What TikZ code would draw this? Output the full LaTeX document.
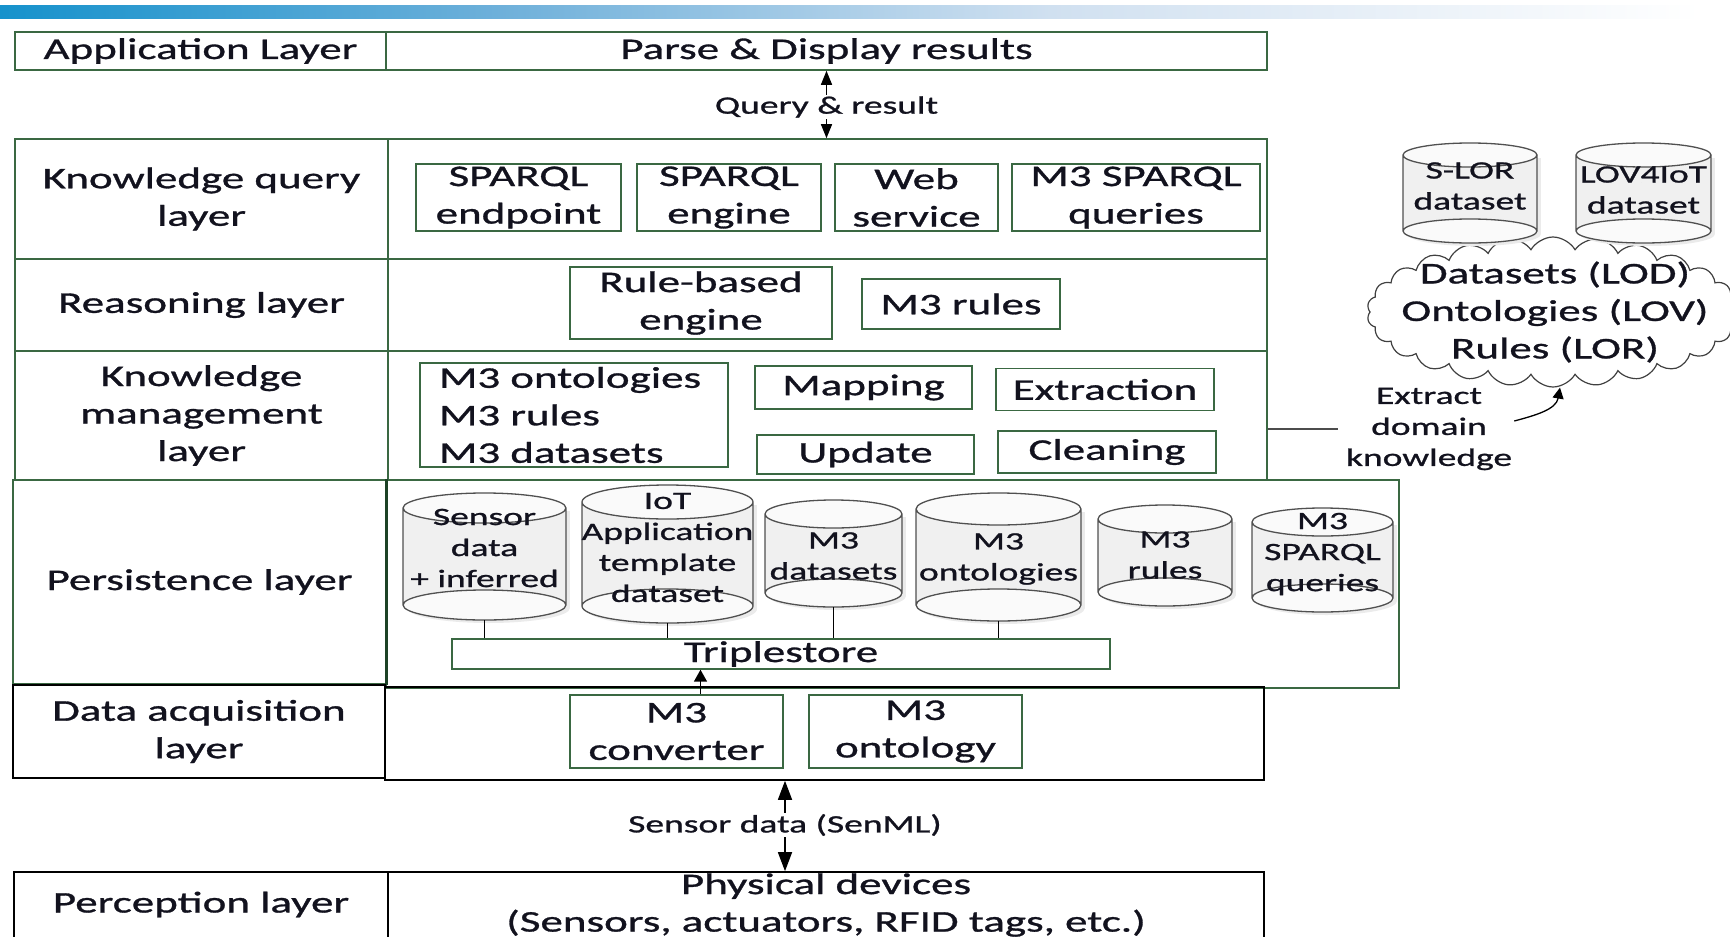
\documentclass[tikz,border=0pt]{standalone}
\usepackage{fontspec}
\setmainfont{Carlito}[FakeStretch=1.5,FakeBold=1.0]
\usetikzlibrary{arrows.meta,shapes.symbols,calc}

\definecolor{frame}{RGB}{58,104,66}
\definecolor{framedark}{RGB}{28,66,38}
\definecolor{ink}{RGB}{18,18,30}
\definecolor{cylline}{RGB}{80,80,80}
\definecolor{cylfill}{RGB}{240,240,240}
\definecolor{cyltop}{RGB}{250,250,250}
\definecolor{barA}{RGB}{22,146,204}
\definecolor{barB}{RGB}{110,176,218}
\definecolor{barC}{RGB}{208,224,240}

\newcommand\fsMain{\fontsize{30}{37.5}\selectfont}
\newcommand\fsSmall{\fontsize{25}{31}\selectfont}

\tikzset{
  cell/.style={draw=frame, line width=1.6pt, inner sep=0pt, align=center, font=\fsMain, text=ink},
  blackcell/.style={cell, draw=black},
  item/.style={draw=frame, line width=1.4pt, inner sep=0pt, align=center, font=\fsMain, text=ink},
  txt/.style={inner sep=0pt, align=center, font=\fsMain, text=ink},
  lbl/.style={inner sep=2pt, align=center, font=\fsSmall, text=ink},
  cyltext/.style={inner sep=0pt, align=center, font=\fsSmall, text=ink},
  cylbody/.style={inner sep=0pt, draw=none},
  link/.style={line width=1.5pt, black},
  qarrow/.style={line width=1.4pt, {Triangle[width=11pt,length=14pt]}-{Triangle[width=11pt,length=14pt]}},
  sarrow/.style={line width=1.5pt, {Triangle[width=14pt,length=19pt]}-{Triangle[width=14pt,length=19pt]}},
  uparrow/.style={line width=1.5pt, -{Triangle[width=13pt,length=12pt]}},
  cloudshape/.style={cloud, draw=black!75, line width=1.2pt, fill=white, cloud puffs=26,
    cloud puff arc=120, cloud ignores aspect, minimum width=372pt, minimum height=150pt, inner sep=0pt},
}

% database cylinder: name, left, right, top, bottom, ellipse radius, text centre, text
\newcommand\dbcyl[8]{%
  \pgfmathsetmacro\cx{(#2+#3)/2}%
  \pgfmathsetmacro\rx{(#3-#2)/2}%
  \pgfmathsetmacro\ct{#4+#6}%
  \pgfmathsetmacro\cb{#5-#6}%
  \fill[black!8] (#2+4,\ct+3) rectangle (#3+4,\cb+3);
  \fill[black!8] (\cx+4,\cb+3) ellipse [x radius=\rx pt, y radius=#6pt];
  \fill[cylfill] (#2,\ct) rectangle (#3,\cb);
  \fill[cyltop] (\cx,\cb) ellipse [x radius=\rx pt, y radius=#6pt];
  \fill[cyltop] (\cx,\ct) ellipse [x radius=\rx pt, y radius=#6pt];
  \draw[cylline, line width=1.3pt] (#2,\ct) -- (#2,\cb) (#3,\ct) -- (#3,\cb)
    (\cx,\ct) ellipse [x radius=\rx pt, y radius=#6pt]
    (\cx,\cb) ellipse [x radius=\rx pt, y radius=#6pt];
  \node[cylbody, minimum width=#3pt-#2pt, minimum height=#5pt-#4pt] (#1) at (\cx,{(#4+#5)/2}) {};
  \node[cyltext] (#1-t) at (\cx,#7) {#8};
}

\begin{document}
\begin{tikzpicture}[x=1pt,y=-1pt]
\useasboundingbox (0,0) rectangle (1730,937);
\clip (0,0) rectangle (1730,937);

% header band
\shade[left color=barA, right color=barB] (0,5) rectangle (500,18);
\shade[left color=barB, right color=barC] (500,5) rectangle (1050,18);
\shade[left color=barC, right color=white] (1050,5) rectangle (1700,18);

% layer table
\node[cell, minimum width=371pt, minimum height=38pt] (appl) at (200.5,51) {Application Layer};
\node[cell, minimum width=881pt, minimum height=38pt] (appr) at (826.5,51) {Parse \& Display results};

\node[cell, minimum width=373pt, minimum height=120pt] (kql) at (201.5,199) {Knowledge query\\layer};
\node[cell, minimum width=879pt, minimum height=120pt] (kqr) at (827.5,199) {};
\node[cell, minimum width=373pt, minimum height=92pt] (rsl) at (201.5,305) {Reasoning layer};
\node[cell, minimum width=879pt, minimum height=92pt] (rsr) at (827.5,305) {};
\node[cell, minimum width=373pt, minimum height=129pt] (kml) at (201.5,415.5) {Knowledge\\management\\layer};
\node[cell, minimum width=879pt, minimum height=129pt] (kmr) at (827.5,415.5) {};
\node[cell, minimum width=373pt, minimum height=204pt] (psl) at (199.5,582) {Persistence layer};
\node[cell, minimum width=1013pt, minimum height=208pt] (psr) at (892.5,584) {};
\draw[framedark, line width=3pt] (psl.north east) -- (psl.south east);
\node[blackcell, minimum width=372pt, minimum height=93pt] (dal) at (199,731.5) {Data acquisition\\layer};
\node[blackcell, minimum width=879pt, minimum height=93pt] (dar) at (824.5,733.5) {};
\node[blackcell, minimum width=374pt, minimum height=88pt] (pel) at (201,916) {};
\node[blackcell, minimum width=876pt, minimum height=88pt] (per) at (826,916) {};
\node[txt] (pelt) at (201,904.5) {Perception layer};
\node[txt] (pert) at (826,905) {Physical devices\\(Sensors, actuators, RFID tags, etc.)};

% query path
\draw[qarrow] (appr.south) -- (appr.south |- kqr.north);
\node[lbl, fill=white, inner sep=1pt] (qr) at (826.5,107) {Query \& result};

% knowledge query layer
\node[item, minimum width=205pt, minimum height=67pt] (se) at (518.5,197.5) {SPARQL\\endpoint};
\node[item, minimum width=184pt, minimum height=67pt] (sg) at (729,197.5) {SPARQL\\engine};
\node[item, minimum width=163pt, minimum height=67pt] (ws) at (916.5,197.5) {Web\\service};
\node[item, minimum width=248pt, minimum height=67pt] (mq) at (1136,197.5) {M3 SPARQL\\queries};

% reasoning layer
\node[item, minimum width=262pt, minimum height=72pt] (rb) at (701,303) {Rule-based\\engine};
\node[item, minimum width=198pt, minimum height=50pt] (mr) at (961,304) {M3 rules};

% knowledge management layer
\node[item, text width=270pt, inner xsep=19pt, align=left, minimum height=104pt] (ml) at (574,415) {M3 ontologies\\M3 rules\\M3 datasets};
\node[item, minimum width=217pt, minimum height=43pt] (mp) at (863.5,387.5) {Mapping};
\node[item, minimum width=218pt, minimum height=42pt] (ex) at (1105,389.5) {Extraction};
\node[item, minimum width=217pt, minimum height=39pt] (up) at (865.5,454.5) {Update};
\node[item, minimum width=218pt, minimum height=42pt] (cn) at (1107,452) {Cleaning};

% persistence layer
\dbcyl{sd}{403}{566}{493}{620}{15}{548}{Sensor\\data\\+ inferred}
\dbcyl{iot}{582}{753}{485}{623}{17}{547.5}{IoT\\Application\\template\\dataset}
\dbcyl{ds}{765}{902}{500}{607}{14}{556}{M3\\datasets}
\dbcyl{on}{916}{1081}{493}{621}{16}{559}{M3\\ontologies}
\dbcyl{ru}{1098}{1232}{505}{606}{14}{555}{M3\\rules}
\dbcyl{sq}{1252}{1393}{508}{612}{14}{554}{M3\\SPARQL\\queries}
\node[item, minimum width=658pt, minimum height=30pt] (ts) at (781,654) {Triplestore};
\foreach \c in {sd,iot,ds,on}
  \draw[link] (\c.south) -- (\c.south |- ts.north);

% data acquisition layer
\node[item, minimum width=213pt, minimum height=73pt] (mc) at (676.5,731.5) {M3\\converter};
\node[item, minimum width=213pt, minimum height=73pt] (mo) at (915.5,731.5) {M3\\ontology};
\draw[uparrow] ([xshift=24pt]mc.north) -- ([xshift=24pt]mc.north |- ts.south);

% sensor data path
\draw[sarrow] ([xshift=-39.5pt]dar.south) -- ([xshift=-39.5pt]dar.south |- per.north);
\node[lbl, fill=white, inner sep=1pt] (sdl) at (785,825) {Sensor data (SenML)};

% external knowledge
\node[cloudshape] (cl) at (1553,312) {};
\node[txt] (clt) at (1555,312) {Datasets (LOD)\\Ontologies (LOV)\\Rules (LOR)};
\dbcyl{slor}{1403}{1537}{143}{243}{12}{186}{S-LOR\\dataset}
\dbcyl{lov}{1576}{1711}{143}{243}{12}{190}{LOV4IoT\\dataset}

\node[lbl] (edk) at (1429,429) {Extract\\domain\\knowledge};
\draw[line width=1.4pt, black!70, shorten >=6pt] (kmr.east |- edk.west) -- (edk.west);
\draw[line width=1.3pt, -{Triangle[width=11pt,length=11pt]}] ([yshift=8pt]edk.east) to[out=15,in=-100] ([xshift=7pt]cl.south);
\end{tikzpicture}
\end{document}
